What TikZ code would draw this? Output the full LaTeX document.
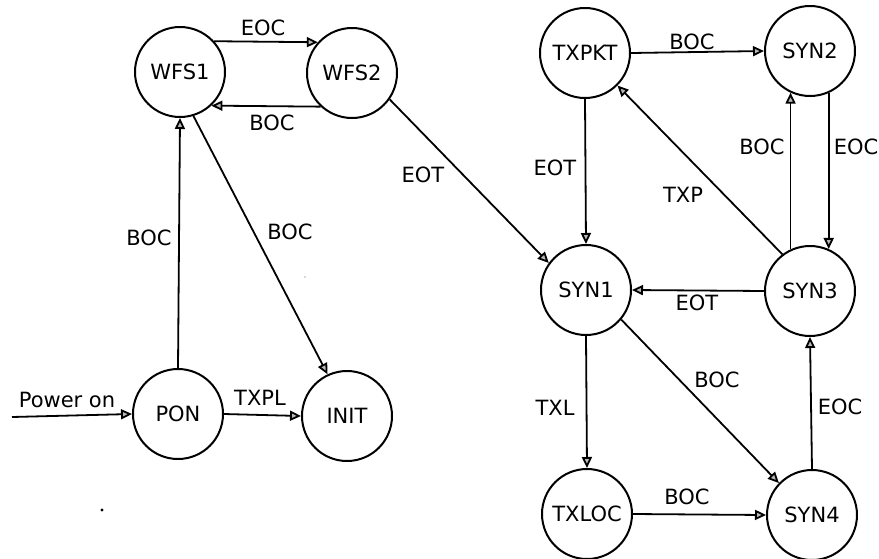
\documentclass[tikz,border=0pt]{standalone}
\usepackage{fontspec}
\setmainfont{DejaVu Sans}
\usetikzlibrary{arrows.meta}
\begin{document}
\begin{tikzpicture}[x=1pt,y=-1pt,
  state/.style={circle,draw,line width=2pt,minimum size=90pt,inner sep=0pt,font=\fontsize{21}{21}\selectfont},
  edge/.style={line width=1.8pt,-{Triangle[length=11pt,width=10pt,fill=gray!55]}},
  lbl/.style={font=\fontsize{21}{21}\selectfont,inner sep=0pt}]
\useasboundingbox (0,0) rectangle (879,558);

% states
\node[state] (wfs1)  at (180,72)  {WFS1};
\node[state] (wfs2)  at (352,73)  {WFS2};
\node[state] (pon)   at (178,414) {PON};
\node[state] (init)  at (347,416) {INIT};
\node[state] (txpkt) at (585,53)  {TXPKT};
\node[state] (syn2)  at (810,51)  {SYN2};
\node[state] (syn1)  at (586,290) {SYN1};
\node[state] (syn3)  at (810,291) {SYN3};
\node[state] (txloc) at (587,514) {TXLOC};
\node[state] (syn4)  at (812,515) {SYN4};

% entry point
\coordinate (start) at (12,417);
\draw[edge] (start) -- (pon.west);
\node[lbl] (lpwr) at (67,400) {Power on};

% left-hand group
\draw[edge] (wfs1.42) -- (wfs2.138);
\node[lbl] (l1) at (263,28) {EOC};
\draw[edge] (wfs2.-133) -- (wfs1.-47);
\node[lbl] (l2) at (272,123) {BOC};
\draw[edge] (pon.north) -- (wfs1.south);
\node[lbl] (l3) at (149,238) {BOC};
\draw[edge] (wfs1.-73) -- (init.115);
\node[lbl] (l4) at (290,232) {BOC};
\draw[edge] (pon.east) -- (init.west);
\node[lbl] (l5) at (260,398) {TXPL};
\draw[edge] (wfs2.-35) -- (syn1.144);
\node[lbl] (l6) at (423,175) {EOT};

% right-hand group
\draw[edge] (txpkt.east) -- (syn2.west);
\node[lbl] (l7) at (692,42) {BOC};
\draw[edge] (txpkt.south) -- (syn1.north);
\node[lbl] (l8) at (555,168) {EOT};
\draw[edge] (syn3.127) -- (txpkt.-45);
\node[lbl] (l9) at (683,195) {TXP};
\draw[edge] (syn3.115) -- (syn2.-115);
\node[lbl] (l10) at (762,147) {BOC};
\draw[edge] (syn2.-66) -- (syn3.66);
\node[lbl] (l11) at (856,147) {EOC};
\draw[edge] (syn3.west) -- (syn1.east);
\node[lbl] (l12) at (697,303) {EOT};
\draw[edge] (syn1.south) -- (txloc.north);
\node[lbl] (l13) at (555,408) {TXL};
\draw[edge] (syn1.-40) -- (syn4.136);
\node[lbl] (l14) at (717,380) {BOC};
\draw[edge] (txloc.east) -- (syn4.west);
\node[lbl] (l15) at (687,497) {BOC};
\draw[edge] (syn4.north) -- (syn3.south);
\node[lbl] (l16) at (840,407) {EOC};

% stray specks
\fill (102,510) circle (1.6pt);
\fill[gray!60] (305,277) circle (0.8pt);
\end{tikzpicture}
\end{document}
